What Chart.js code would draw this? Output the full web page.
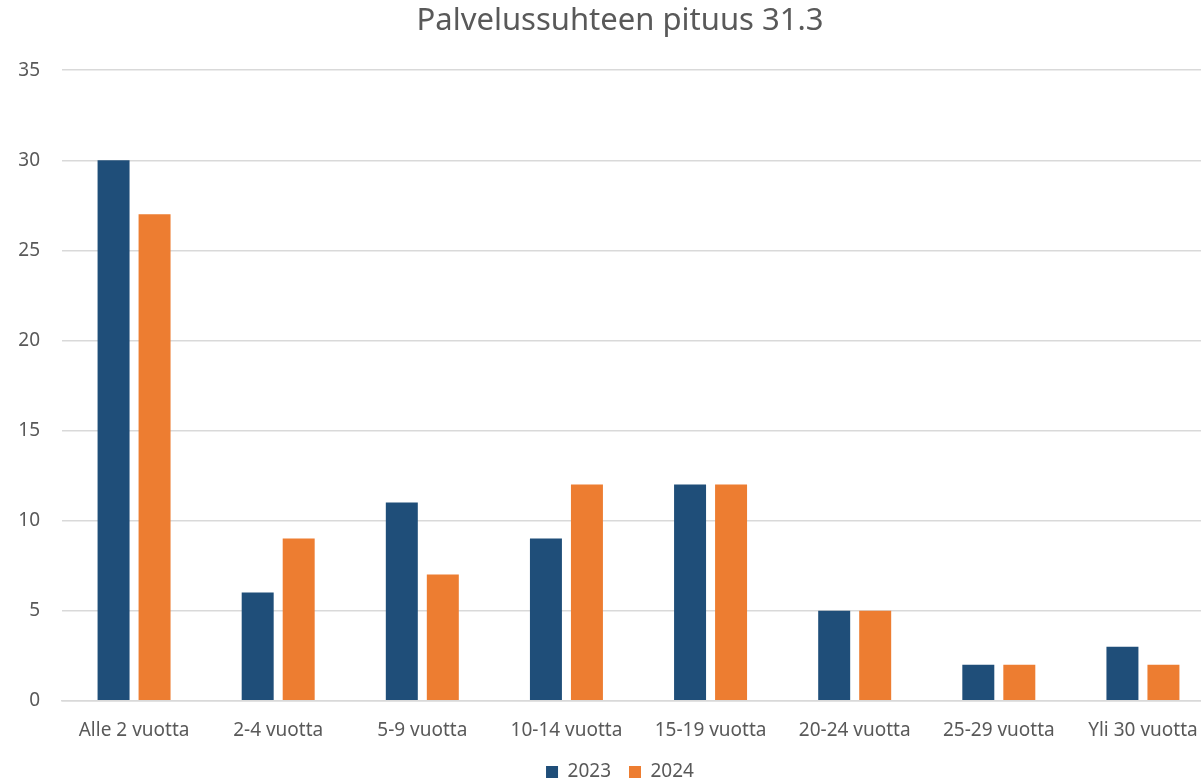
<!DOCTYPE html>
<html>
<head>
<meta charset="utf-8">
<script src="https://cdn.jsdelivr.net/npm/chart.js@4/dist/chart.umd.min.js"></script>
<style>
  html, body { margin: 0; padding: 0; background: #fff; overflow: hidden; }
  #wrap { width: 1240px; height: 800px; position: relative; }
</style>
</head>
<body>
<div id="wrap"><canvas id="chart"></canvas></div>
<script>
const categories = ['Alle 2 vuotta', '2-4 vuotta', '5-9 vuotta', '10-14 vuotta', '15-19 vuotta', '20-24 vuotta', '25-29 vuotta', 'Yli 30 vuotta'];
const values2023 = [30, 6, 11, 9, 12, 5, 2, 3];
const values2024 = [27, 9, 7, 12, 12, 5, 2, 2];
const yTicks = [0, 5, 10, 15, 20, 25, 30, 35];

const textColor = '#595959';
const font = 'Noto Sans';

const ctx = document.getElementById('chart').getContext('2d');
const chart = new Chart(ctx, {
    type: 'bar',
    data: {
        labels: categories,
        datasets: [
            { label: '2023', data: values2023, backgroundColor: '#1F4E79' },
            { label: '2024', data: values2024, backgroundColor: '#ED7D31' }
        ]
    },
    options: {
        responsive: true,
        maintainAspectRatio: false,
        animation: false,
        categoryPercentage: 0.569,
        barPercentage: 0.78,
        layout: { padding: { left: 8, right: 8, top: 3, bottom: 8.5 } },
        scales: {
            x: {
                grid: { display: false, drawTicks: false },
                border: { color: '#D9D9D9', width: 1.5 },
                ticks: { color: textColor, font: { family: font, size: 19 }, padding: 18, maxRotation: 0 },
                afterFit(axis) {
                    axis.height -= 15; // pull the legend closer to the labels
                }
            },
            y: {
                min: 0,
                max: 35,
                afterBuildTicks(axis) {
                    axis.ticks = yTicks.map(v => ({ value: v }));
                },
                afterFit(axis) {
                    axis.width = 54;
                },
                grid: { color: '#D9D9D9', lineWidth: 1.5, drawTicks: false },
                border: { display: false },
                ticks: { color: textColor, font: { family: font, size: 19 }, padding: 22 }
            },
            // empty spacer on the right so the plot runs past the picture edge
            y2: {
                position: 'right',
                grid: { display: false },
                border: { display: false },
                ticks: { display: false },
                afterFit(axis) {
                    axis.width = 17;
                }
            }
        },
        plugins: {
            title: {
                display: true,
                text: 'Palvelussuhteen pituus 31.3',
                color: textColor,
                font: { family: font, size: 31, weight: 'normal' },
                padding: { top: 0, bottom: 30 }
            },
            legend: {
                position: 'bottom',
                labels: {
                    color: textColor,
                    font: { family: font, size: 19 },
                    boxWidth: 12,
                    boxHeight: 12,
                    padding: 18
                }
            },
            tooltip: { enabled: false }
        }
    }
});
</script>
</body>
</html>
